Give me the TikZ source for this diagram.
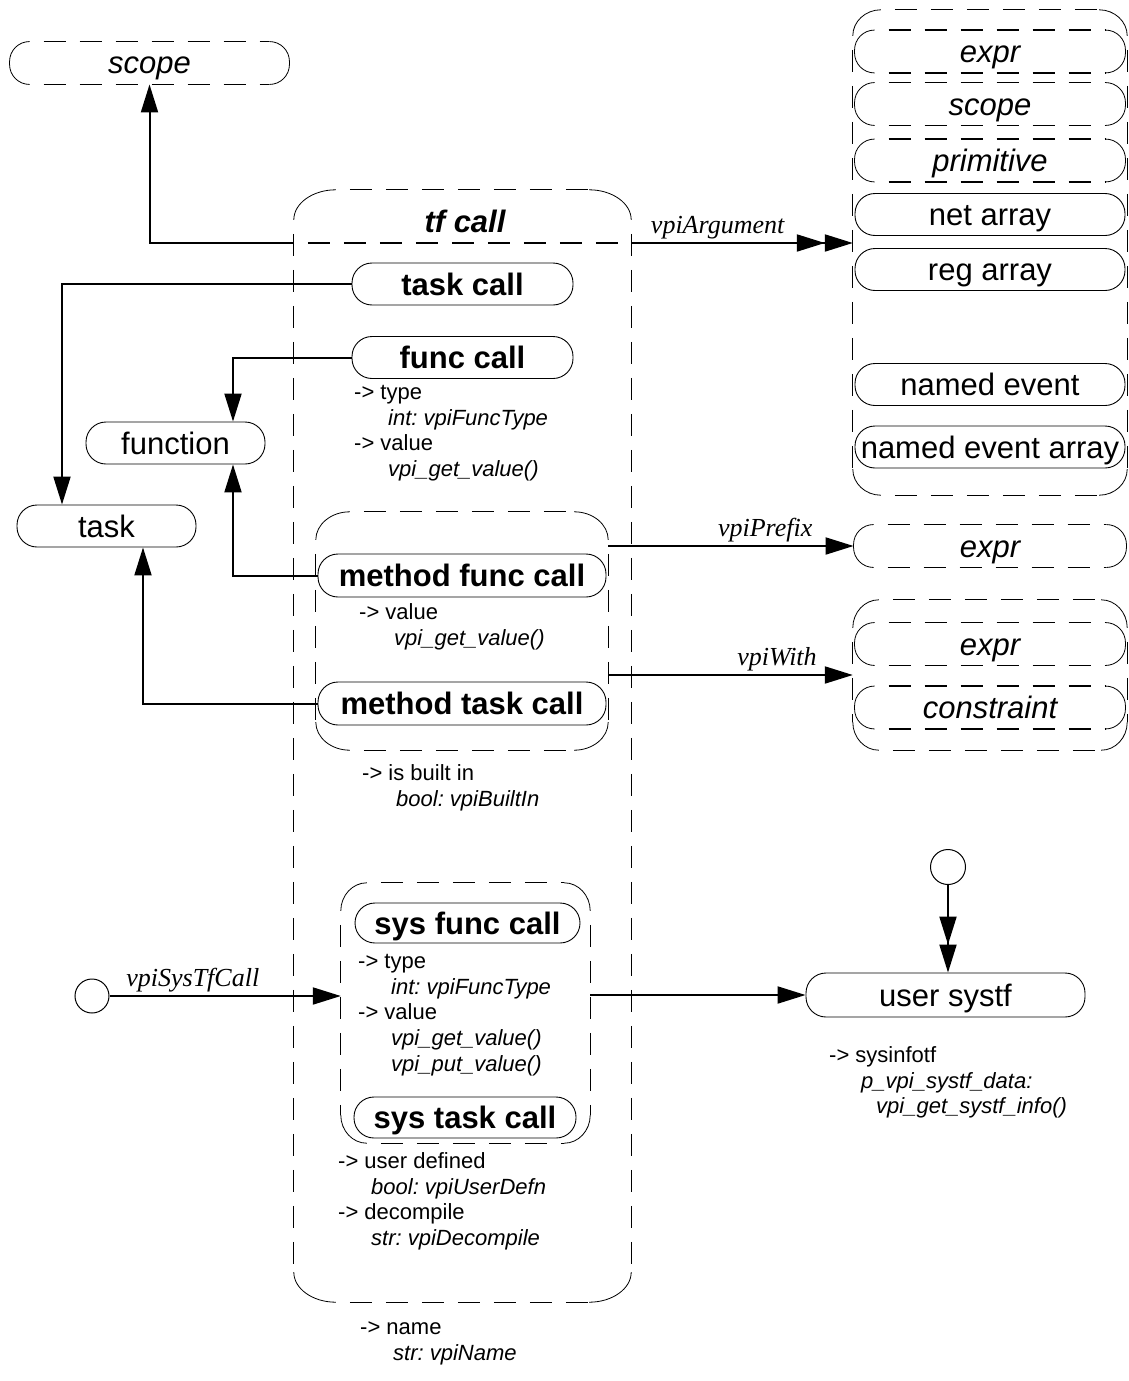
\documentclass[tikz,border=0pt]{standalone}
\usepackage{fontspec}
\setmainfont{Liberation Sans}
\newfontfamily\relfont{Liberation Serif}
\frenchspacing
\usetikzlibrary{arrows.meta}

\tikzset{
  objbox/.style={draw, line width=0.9pt, rounded corners=20pt, minimum height=42pt, inner sep=0pt,
    text height=24pt, text depth=2pt, font=\fontsize{31}{36}\selectfont},
  callbox/.style={objbox, font=\fontsize{31}{36}\selectfont\bfseries},
  refbox/.style={objbox, draw=none, font=\fontsize{31}{36}\selectfont\itshape},
  grpbox/.style={inner sep=0pt},
  dashline/.style={line width=1.3pt, dash pattern=on 22pt off 14pt, dash phase=22pt},
  cornerline/.style={line width=0.8pt},
  conn/.style={line width=2pt, -{Triangle[length=28pt,width=17pt]}},
  connmulti/.style={line width=2pt, -{Triangle[length=28pt,width=17pt]Triangle[length=28pt,width=17pt]}},
  props/.style={anchor=north west, inner sep=0pt, align=left, font=\fontsize{22}{25.8}\selectfont},
  rel/.style={inner sep=3pt, font=\relfont\fontsize{26}{30}\selectfont\itshape},
  stub/.style={circle, draw, line width=1pt, inner sep=0pt, minimum size=34pt}
}

\begin{document}
\begin{tikzpicture}[x=1pt, y=-1pt]
    \useasboundingbox (0,0) rectangle (1129,1381);

    % ==========================================
    % MITTE: Klasse tf call
    % ==========================================
    \node[grpbox, minimum width=337pt, minimum height=1112pt] (tfcall) at (462.5,746) {};
    \node[font=\fontsize{31}{36}\selectfont\bfseries\itshape] (tftitle) at (465,221) {tf call};
    \coordinate (tfhdr) at (462.5,243);
    \draw[dashline] (tfcall.west |- tfhdr) -- (tfcall.east |- tfhdr);

    \node[callbox, minimum width=221pt] (taskcall) at (462.5,284) {task call};
    \node[callbox, minimum width=221pt] (funccall) at (462.5,357.5) {func call};
    \node[props] (funcprops) at (354,381) {\strut-> type\\\hspace*{34pt}\textit{int: vpiFuncType}\\-> value\\\hspace*{34pt}\textit{vpi\_get\_value()}};

    % Methoden-Aufrufe
    \node[grpbox, minimum width=292pt, minimum height=238pt] (methodgrp) at (462,631) {};
    \node[callbox, minimum width=288pt, minimum height=43pt] (methodfunc) at (462,575.5) {method func call};
    \node[props] (methodprops) at (359,601) {\strut-> value\\\hspace*{35pt}\textit{vpi\_get\_value()}};
    \node[callbox, minimum width=288pt, minimum height=43pt] (methodtask) at (462,703.5) {method task call};
    \node[props] (builtinprops) at (362,762) {\strut-> is built in\\\hspace*{34pt}\textit{bool: vpiBuiltIn}};

    % System-Aufrufe
    \node[grpbox, minimum width=249pt, minimum height=260pt] (sysgrp) at (465.5,1013) {};
    \node[callbox, minimum width=225pt, minimum height=40pt] (sysfunc) at (467.5,923) {sys func call};
    \node[props] (sysprops) at (358,950) {\strut-> type\\\hspace*{33pt}\textit{int: vpiFuncType}\\-> value\\\hspace*{33pt}\textit{vpi\_get\_value()}\\\hspace*{33pt}\textit{vpi\_put\_value()}};
    \node[callbox, minimum width=222pt, minimum height=41pt] (systask) at (465,1117.5) {sys task call};
    \node[props] (userprops) at (338,1150) {\strut-> user defined\\\hspace*{33pt}\textit{bool: vpiUserDefn}\\-> decompile\\\hspace*{33pt}\textit{str: vpiDecompile}};
    \node[props] (nameprops) at (360,1316) {\strut-> name\\\hspace*{33pt}\textit{str: vpiName}};

    % ==========================================
    % LINKS: scope, function, task
    % ==========================================
    \node[refbox, minimum width=279pt] (scopeL) at (149.5,63) {scope};
    \node[objbox, minimum width=179pt] (function) at (175.5,443) {function};
    \node[objbox, minimum width=179pt] (task) at (106.5,526) {task};
    \node[stub] (stubA) at (92,996) {};

    % ==========================================
    % RECHTS: Argumente, Prefix, With, user systf
    % ==========================================
    \node[grpbox, minimum width=274pt, minimum height=485pt] (argGrp) at (990,252.5) {};
    \node[refbox, minimum width=270pt] (argExpr) at (990,51.5) {expr};
    \node[refbox, minimum width=270pt] (argScope) at (990,104) {scope};
    \node[refbox, minimum width=270pt] (argPrim) at (990,160.5) {primitive};
    \node[objbox, minimum width=270pt] (netArray) at (990,214.5) {net array};
    \node[objbox, minimum width=270pt] (regArray) at (990,269.5) {reg array};
    \node[objbox, minimum width=270pt] (namedEvent) at (990,384.5) {named event};
    \node[objbox, minimum width=270pt] (namedEventArray) at (990,447) {named event array};

    \node[refbox, minimum width=272pt] (prefixExpr) at (990,546) {expr};

    \node[grpbox, minimum width=274pt, minimum height=150pt] (withGrp) at (990,675) {};
    \node[refbox, minimum width=270pt] (withExpr) at (990,644) {expr};
    \node[refbox, minimum width=270pt] (withConstr) at (990,707.5) {constraint};

    \node[stub, minimum size=35pt] (stubB) at (948,867) {};
    \node[objbox, minimum width=279pt, minimum height=44pt] (usersystf) at (945.5,995) {user systf};
    \node[props] (systfprops) at (829,1044) {\strut-> sysinfotf\\\hspace*{32pt}\textit{p\_vpi\_systf\_data:}\\\hspace*{47pt}\textit{vpi\_get\_systf\_info()}};

    % ==========================================
    % GESTRICHELTE RAHMEN (Kanten gestrichelt, Ecken duenn)
    % ==========================================
    \foreach \n in {scopeL, argExpr, argScope, argPrim, prefixExpr, withExpr, withConstr} {
        \draw[dashline] ([xshift=20pt]\n.north west) -- ([xshift=-20pt]\n.north east)
                        ([xshift=20pt]\n.south west) -- ([xshift=-20pt]\n.south east);
        \draw[cornerline, rounded corners=20pt]
            ([xshift=20pt]\n.north west) -- (\n.north west) -- (\n.south west) -- ([xshift=20pt]\n.south west)
            ([xshift=-20pt]\n.north east) -- (\n.north east) -- (\n.south east) -- ([xshift=-20pt]\n.south east);
    }
    % Gruppen: \r waagrecht, \s senkrecht
    \foreach \n/\r/\s in {tfcall/42/30, methodgrp/34/28, sysgrp/26/28, argGrp/28/26, withGrp/26/28} {
        \draw[dashline] ([xshift=\r pt]\n.north west) -- ([xshift=-\r pt]\n.north east)
                        ([xshift=\r pt]\n.south west) -- ([xshift=-\r pt]\n.south east)
                        ([yshift=-\s pt]\n.north west) -- ([yshift=\s pt]\n.south west)
                        ([yshift=-\s pt]\n.north east) -- ([yshift=\s pt]\n.south east);
        \draw[cornerline]
            ([xshift=\r pt]\n.north west) .. controls ([xshift=0.45*\r*1pt]\n.north west) and ([yshift=-0.45*\s*1pt]\n.north west) .. ([yshift=-\s pt]\n.north west)
            ([xshift=-\r pt]\n.north east) .. controls ([xshift=-0.45*\r*1pt]\n.north east) and ([yshift=-0.45*\s*1pt]\n.north east) .. ([yshift=-\s pt]\n.north east)
            ([xshift=\r pt]\n.south west) .. controls ([xshift=0.45*\r*1pt]\n.south west) and ([yshift=0.45*\s*1pt]\n.south west) .. ([yshift=\s pt]\n.south west)
            ([xshift=-\r pt]\n.south east) .. controls ([xshift=-0.45*\r*1pt]\n.south east) and ([yshift=0.45*\s*1pt]\n.south east) .. ([yshift=\s pt]\n.south east);
    }

    % ==========================================
    % VERBINDUNGEN
    % ==========================================
    \draw[conn] (tfcall.west |- tfhdr) -| (scopeL.south);
    \draw[connmulti] (tfcall.east |- tfhdr) -- node[rel, above, pos=0.39] {vpiArgument} (argGrp.west |- tfhdr);
    \draw[conn] (taskcall.west) -| ([xshift=-44.5pt]task.north);
    \draw[conn] (funccall.west) -| ([xshift=57.5pt]function.north);
    \draw[conn] (methodfunc.west) -| ([xshift=57.5pt]function.south);
    \draw[conn] (methodtask.west) -| ([xshift=36.5pt]task.south);
    \draw[conn] (prefixExpr.west -| methodgrp.east) -- node[rel, above, pos=0.64] {vpiPrefix} (prefixExpr.west);
    \draw[conn] (withGrp.west -| methodgrp.east) -- node[rel, above, pos=0.69] {vpiWith} (withGrp.west);
    \draw[conn] (stubA.east) -- node[rel, above, pos=0.36] {vpiSysTfCall} (sysgrp.west |- stubA);
    \draw[conn] (sysgrp.east |- usersystf) -- (usersystf.west);
    \draw[connmulti] (stubB.south) -- (usersystf.north -| stubB);

\end{tikzpicture}
\end{document}
